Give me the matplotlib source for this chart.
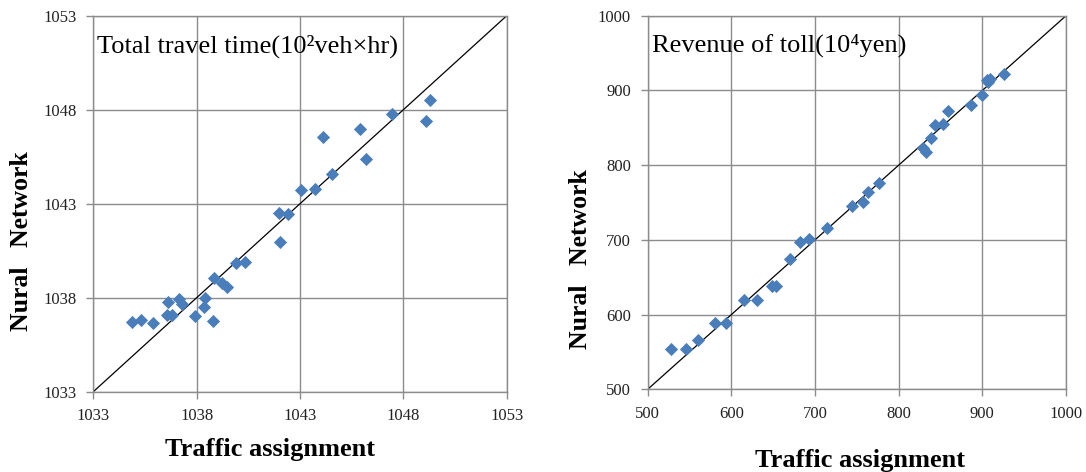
import numpy as np
import matplotlib
matplotlib.use("Agg")
import matplotlib.pyplot as plt

plt.rcParams["font.family"] = ["Liberation Serif", "DejaVu Serif"]

# Total travel time (10^2 veh x hr)
time_ta = [1034.86, 1035.29, 1035.88, 1036.62, 1036.59, 1036.80, 1037.15, 1037.27,
           1037.93, 1038.41, 1038.36, 1038.78, 1038.84, 1039.25, 1039.49, 1039.88,
           1040.34, 1041.96, 1042.44, 1042.01, 1043.07, 1043.72, 1044.55, 1044.13,
           1045.90, 1046.21, 1047.46, 1049.11, 1049.27]
time_nn = [1036.72, 1036.80, 1036.64, 1037.76, 1037.08, 1037.08, 1037.93, 1037.68,
           1037.03, 1037.97, 1037.49, 1036.78, 1039.05, 1038.77, 1038.55, 1039.83,
           1039.88, 1042.51, 1042.44, 1040.98, 1043.74, 1043.78, 1044.60, 1046.53,
           1046.99, 1045.39, 1047.76, 1047.40, 1048.50]

# Revenue of toll (10^4 yen)
toll_ta = [527.8, 545.8, 560.5, 580.4, 593.5, 615.0, 630.6, 648.1, 653.3, 669.7,
           682.0, 692.7, 714.2, 743.7, 757.6, 763.2, 776.7, 829.0, 833.0, 838.5,
           843.3, 853.2, 858.8, 886.3, 899.0, 905.0, 909.0, 907.0, 925.7]
toll_nn = [554.0, 554.0, 566.0, 588.4, 588.4, 619.9, 619.9, 637.9, 638.7, 674.4,
           697.6, 701.6, 715.5, 745.8, 750.3, 763.7, 775.8, 823.0, 818.0, 836.0,
           853.8, 854.8, 873.0, 880.6, 894.0, 914.1, 915.4, 911.0, 921.7]

time_ticks = [1033, 1038, 1043, 1048, 1053]
toll_ticks = [500, 600, 700, 800, 900, 1000]

blue = "#4a7ebb"
grid_c = "#8c8c8c"

fig = plt.figure(figsize=(10.86, 4.72), dpi=100)
ax1 = fig.add_axes([0.0859, 0.1701, 0.3807, 0.7966])
ax2 = fig.add_axes([0.5964, 0.1752, 0.3852, 0.7915])


def style(ax, ticks, title, xlab_pos, ylab_pos):
    lo, hi = ticks[0], ticks[-1]
    ax.plot([lo, hi], [lo, hi], color="black", lw=0.9, zorder=2)
    ax.set_xlim(lo, hi)
    ax.set_ylim(lo, hi)
    ax.set_xticks(ticks)
    ax.set_yticks(ticks)
    ax.grid(True, color=grid_c, lw=1.0)
    ax.set_axisbelow(True)
    for s in ax.spines.values():
        s.set_color(grid_c)
        s.set_linewidth(1.0)
    ax.tick_params(colors=grid_c, labelcolor="#222222", labelsize=12,
                   length=5, width=1.0, pad=7)
    ax.set_xlabel("Traffic assignment", fontsize=19, fontweight="bold")
    ax.set_ylabel("Nural   Network", fontsize=18.5, fontweight="bold")
    ax.xaxis.set_label_coords(*xlab_pos)
    ax.yaxis.set_label_coords(*ylab_pos)
    ax.text(0.01, 0.92, title, transform=ax.transAxes, fontsize=19,
            va="center", ha="left")


ax1.scatter(time_ta, time_nn, marker="D", s=45, color=blue, zorder=3, linewidths=0)
style(ax1, time_ticks, "Total travel time(10²veh×hr)", (0.427, -0.123), (-0.146, 0.40))

ax2.scatter(toll_ta, toll_nn, marker="D", s=45, color=blue, zorder=3, linewidths=0)
style(ax2, toll_ticks, "Revenue of toll(10⁴yen)", (0.508, -0.16), (-0.133, 0.349))

fig.savefig("out.png", dpi=100)
